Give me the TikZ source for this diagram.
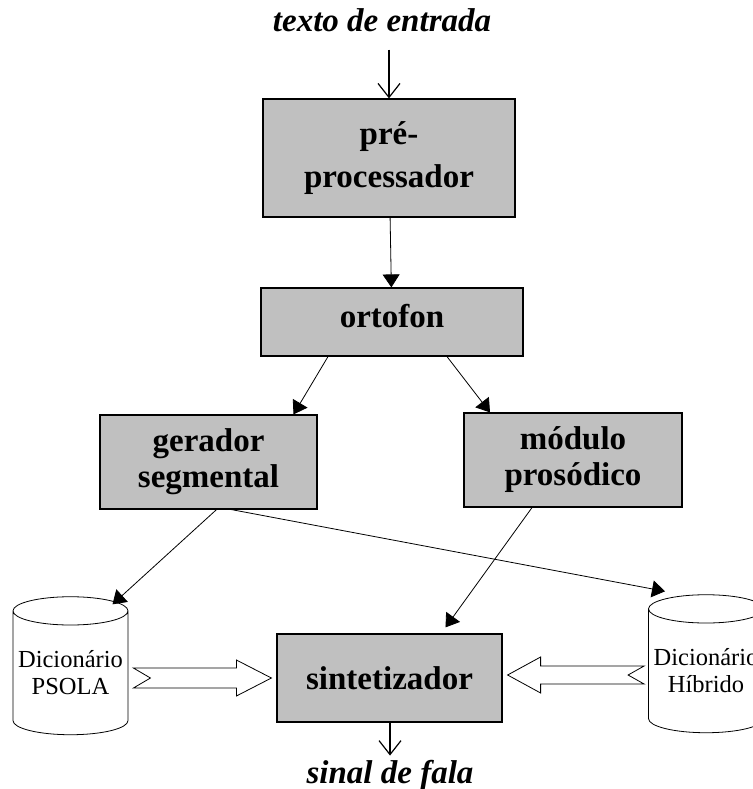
\documentclass[tikz,border=0pt]{standalone}
\usepackage{fontspec}
\setmainfont{Liberation Serif}
\usetikzlibrary{shapes.geometric,arrows.meta,calc}
\definecolor{boxgray}{HTML}{C0C0C0}

\begin{document}
\begin{tikzpicture}[x=10pt,y=-10pt, every node/.style={font=\fontsize{33}{36}\selectfont\bfseries}]
  \tikzstyle{blk}=[draw,line width=1.2pt,fill=boxgray,align=center,inner sep=0pt]
  \tikzstyle{dict}=[draw,cylinder,shape border rotate=90,shape aspect=0.27,line width=0.8pt,align=center,minimum width=115pt,minimum height=138pt,inner sep=0pt,font=\fontsize{24.5}{27}\selectfont]
  \tikzstyle{io}=[inner sep=0pt,anchor=base,font=\fontsize{33}{36}\selectfont\bfseries\itshape]
  \tikzstyle{lnk}=[-{Triangle[length=13pt,width=17pt]},line width=0.8pt]
  \tikzstyle{iolnk}=[-{Straight Barb[length=14pt,width=22pt]},line width=1.2pt]
  \tikzstyle{fat}=[line width=0.8pt,fill=white,line join=miter]
  \useasboundingbox (0,0) rectangle (75.2,78.9);
  % input and output
  \node[io] (in) at (38.2,3.2) {texto de entrada};
  \node[io] (out) at (39.0,78.3) {sinal de fala};
  % processing blocks
  \node[blk,minimum width=252pt,minimum height=118pt] (pre) at (38.9,15.8) {pré-\\[7pt]processador};
  \node[blk,minimum width=262pt,minimum height=68pt,text depth=12pt] (ort) at (39.2,32.2) {ortofon};
  \node[blk,minimum width=217pt,minimum height=94pt] (ger) at (20.85,46.2) {gerador\\segmental};
  \node[blk,minimum width=218pt,minimum height=94pt] (mod) at (57.3,46.0) {módulo\\prosódico};
  \node[blk,minimum width=225pt,minimum height=88pt] (sin) at (38.95,67.8) {sintetizador};
  % dictionaries
  \node[dict] (psola) at (7.05,67.3) {Dicionário\\PSOLA};
  \node[dict] (hib) at (70.6,67.1) {Dicionário\\Híbrido};
  % connectors
  \draw[iolnk,shorten <=17pt] (pre.north |- in.south) -- (pre.north);
  \draw[lnk] (pre) -- (ort);
  \draw[lnk] ([xshift=-64pt]ort.south) -- ([xshift=85pt]ger.north);
  \draw[lnk] ([xshift=55pt]ort.south) -- ([xshift=-83pt]mod.north);
  \draw[lnk] ([xshift=8pt]ger.south) -- ([xshift=42pt,yshift=-8pt]psola.north);
  \draw[lnk] ([xshift=23pt]ger.south) -- ([xshift=-41pt,yshift=3pt]hib.north);
  \draw[lnk] ([xshift=-41pt]mod.south) -- ([xshift=56pt,yshift=6pt]sin.north);
  \draw[iolnk,shorten >=4pt] (sin) -- (out.north |- sin.south) -- (out.north);
  % hollow arrows into the synthesiser
  \coordinate (pa) at ($(psola.east |- sin.west)+(5pt,0)$);
  \coordinate (pb) at ($(sin.west)+(-5pt,0)$);
  \coordinate (ph) at ($(pb)!35pt!(pa)$);
  \draw[fat] ($(pa)!10pt!90:(pb)$) -- ($(ph)!10pt!90:(pb)$) -- ($(ph)!18pt!90:(pb)$) -- (pb)
    -- ($(ph)!18pt!-90:(pb)$) -- ($(ph)!10pt!-90:(pb)$) -- ($(pa)!10pt!-90:(pb)$) -- ($(pa)!17pt!(pb)$) -- cycle;
  \coordinate (ha) at ($(hib.west |- sin.east)+(-4pt,3pt)$);
  \coordinate (hb) at ($(sin.east)+(5pt,3pt)$);
  \coordinate (hh) at ($(hb)!33pt!(ha)$);
  \draw[fat] ($(ha)!9pt!90:(hb)$) -- ($(hh)!9pt!90:(hb)$) -- ($(hh)!18pt!90:(hb)$) -- (hb)
    -- ($(hh)!18pt!-90:(hb)$) -- ($(hh)!9pt!-90:(hb)$) -- ($(ha)!9pt!-90:(hb)$) -- ($(ha)!16pt!(hb)$) -- cycle;
\end{tikzpicture}
\end{document}
